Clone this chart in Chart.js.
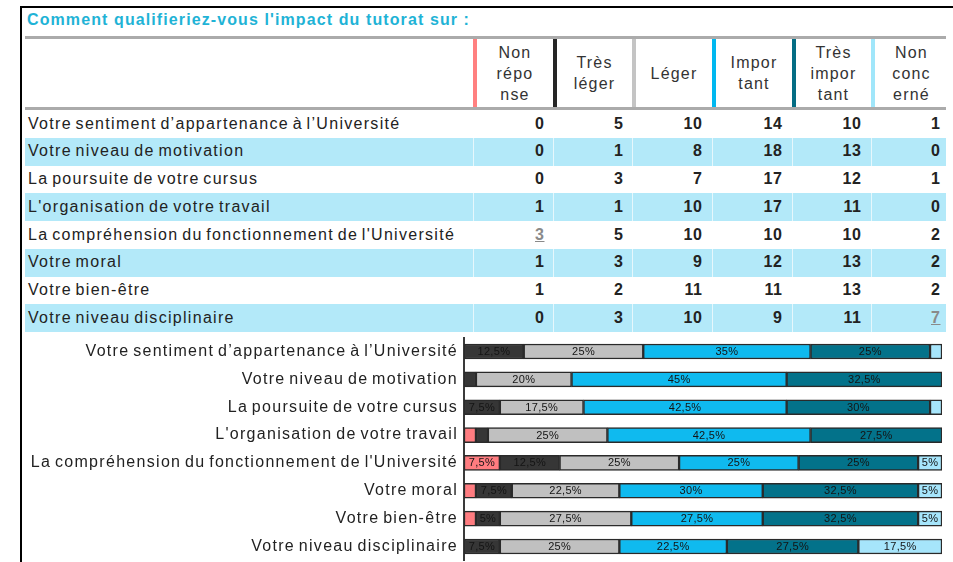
<!DOCTYPE html>
<html>
<head>
<meta charset="utf-8">
<script src="https://cdn.jsdelivr.net/npm/chart.js@4.4.0/dist/chart.umd.min.js"></script>
<style>
  html, body { margin: 0; padding: 0; background: #fff; }
  body { width: 953px; height: 562px; position: relative; overflow: hidden; font-family: "Liberation Sans", Arial, sans-serif; color: #222; }
  .abs { position: absolute; }
  #frameL { left: 20px; top: 6px; width: 2px; height: 560px; background: #000; }
  #frameT { left: 20px; top: 6px; width: 940px; height: 2px; background: #000; }
  #title { left: 27px; top: 11px; font-weight: bold; font-size: 16px; letter-spacing: 1.1px; color: #1fb3d6; white-space: nowrap; }
  .hline { left: 25px; width: 921px; height: 3px; background: #ababab; }
  .rowbg { left: 25px; width: 921px; background: #b3e9f9; }
  .rowlabel { left: 28px; font-size: 16px; letter-spacing: 1.3px; word-spacing: -2px; white-space: nowrap; color: #222; }
  .num { font-weight: bold; font-size: 16px; letter-spacing: 0.6px; text-align: right; color: #222; }
  .num.link { color: #8a8a8a; text-decoration: underline; font-weight: bold; }
  .hdr { display: flex; align-items: center; justify-content: center; text-align: center; font-size: 16px; letter-spacing: 1.2px; line-height: 21px; color: #333; }
  .hbar { width: 4px; }
  .vsep { width: 1px; background: #e6f7fc; }
  #chartWrap { left: 0px; top: 322px; width: 953px; height: 254px; }
</style>
</head>
<body>
<div class="abs" id="frameL"></div>
<div class="abs" id="frameT"></div>
<div class="abs" id="title">Comment qualifieriez-vous l'impact du tutorat sur :</div>
<div id="table"></div>
<div class="abs" id="chartWrap"><canvas id="c" width="953" height="254"></canvas></div>
<script>
// ---- data ----
const categories = [
  "Votre sentiment d’appartenance à l’Université",
  "Votre niveau de motivation",
  "La poursuite de votre cursus",
  "L'organisation de votre travail",
  "La compréhension du fonctionnement de l'Université",
  "Votre moral",
  "Votre bien-être",
  "Votre niveau disciplinaire"
];
const seriesNames = ["Non réponse", "Très léger", "Léger", "Important", "Très important", "Non concerné"];
const headerLines = [["Non", "répo", "nse"], ["Très", "léger"], ["Léger"], ["Impor", "tant"], ["Très", "impor", "tant"], ["Non", "conc", "erné"]];
const nonReponse    = [0, 0, 0, 1, 3, 1, 1, 0];
const tresLeger     = [5, 1, 3, 1, 5, 3, 2, 3];
const leger         = [10, 8, 7, 10, 10, 9, 11, 10];
const important     = [14, 18, 17, 17, 10, 12, 11, 9];
const tresImportant = [10, 13, 12, 11, 10, 13, 13, 11];
const nonConcerne   = [1, 0, 1, 0, 2, 2, 2, 7];
const seriesColors  = ["#ff7c80", "#363636", "#c0c0c0", "#0fbaef", "#03728a", "#a6e5fb"];
const headerColors  = ["#ff8080", "#262626", "#c4c4c4", "#00b8f0", "#046d84", "#a0e6fa"];
const allSeries = [nonReponse, tresLeger, leger, important, tresImportant, nonConcerne];
// cells shown as underlined links in the source table: [row, col]
const linkCells = [[4, 0], [7, 5]];

// ---- table (HTML text) ----
const T = document.getElementById('table');
function add(cls, style, html) {
  const d = document.createElement('div');
  d.className = 'abs ' + cls;
  Object.assign(d.style, style);
  if (html !== undefined) d.innerHTML = html;
  T.appendChild(d);
  return d;
}
add('hline', { top: '36px' });
add('hline', { top: '107px' });
const colLeft = [473, 553, 632, 712, 792, 871];
const colRight = [553, 632, 712, 792, 871, 948];
const numRight = [544.5, 623.5, 702.5, 782.5, 861.5, 940.5];
headerLines.forEach((lines, j) => {
  add('hbar', { left: colLeft[j] + 'px', top: '39px', height: '68px', background: headerColors[j] });
  add('hdr', { left: (colLeft[j] + 4) + 'px', top: '39px', width: (colRight[j] - colLeft[j] - 4) + 'px', height: '68px' }, lines.join('<br>'));
});
const rowTop = 110, rowH = 27.75;
categories.forEach((cat, i) => {
  const top = rowTop + i * rowH;
  if (i % 2 === 1) {
    add('rowbg', { top: top + 'px', height: rowH + 'px' });
    colLeft.forEach(x => add('vsep', { left: x + 'px', top: top + 'px', height: rowH + 'px' }));
  }
  add('rowlabel', { top: (top + 4.5) + 'px' }, cat);
  allSeries.forEach((s, j) => {
    const isLink = linkCells.some(c => c[0] === i && c[1] === j);
    add('num' + (isLink ? ' link' : ''), { top: (top + 4.5) + 'px', right: (953 - numRight[j]) + 'px' }, String(s[i]));
  });
});

// ---- chart ----
const totals = categories.map((_, i) => allSeries.reduce((a, s) => a + s[i], 0));
const datasets = allSeries.map((s, j) => ({
  label: seriesNames[j],
  data: s.map((v, i) => v === 0 ? null : v / totals[i] * 100),
  backgroundColor: seriesColors[j],
  borderColor: '#2a2a2a',
  borderWidth: 1.5,
  borderSkipped: false,
  barThickness: 15
}));

const spacingPlugin = {
  id: 'spacing',
  beforeDraw(chart) { chart.ctx.letterSpacing = '1.3px'; chart.ctx.wordSpacing = '-2px'; }
};
const labelPlugin = {
  id: 'segLabels',
  afterDatasetsDraw(chart) {
    const ctx = chart.ctx;
    ctx.save();
    ctx.letterSpacing = '0.3px';
    ctx.wordSpacing = '0px';
    ctx.font = '11px "Liberation Sans", Arial, sans-serif';
    ctx.fillStyle = '#141414';
    ctx.textAlign = 'center';
    ctx.textBaseline = 'middle';
    chart.data.datasets.forEach((ds, j) => {
      const meta = chart.getDatasetMeta(j);
      meta.data.forEach((el, i) => {
        const v = ds.data[i];
        if (v == null || v < 5) return;
        const txt = (Math.round(v * 10) / 10).toString().replace('.', ',') + '%';
        ctx.fillText(txt, (el.x + el.base) / 2, el.y + 0.5);
      });
    });
    ctx.restore();
  }
};

new Chart(document.getElementById('c'), {
  type: 'bar',
  data: { labels: categories, datasets },
  options: {
    indexAxis: 'y',
    responsive: false,
    animation: false,
    devicePixelRatio: 1,
    layout: { padding: { left: 0, right: 11, top: 0, bottom: 0 } },
    plugins: { legend: { display: false }, tooltip: { enabled: false } },
    scales: {
      x: { stacked: true, min: 0, max: 100, display: false },
      y: {
        stacked: true,
        grid: { display: false, drawTicks: false },
        border: { display: true, color: '#3a3a3a', width: 2 },
        ticks: { padding: 6, color: '#222', font: { family: '"Liberation Sans", Arial, sans-serif', size: 16 } },
        afterFit(scale) { scale.width = 464; }
      }
    }
  },
  plugins: [spacingPlugin, labelPlugin]
});
</script>
</body>
</html>
